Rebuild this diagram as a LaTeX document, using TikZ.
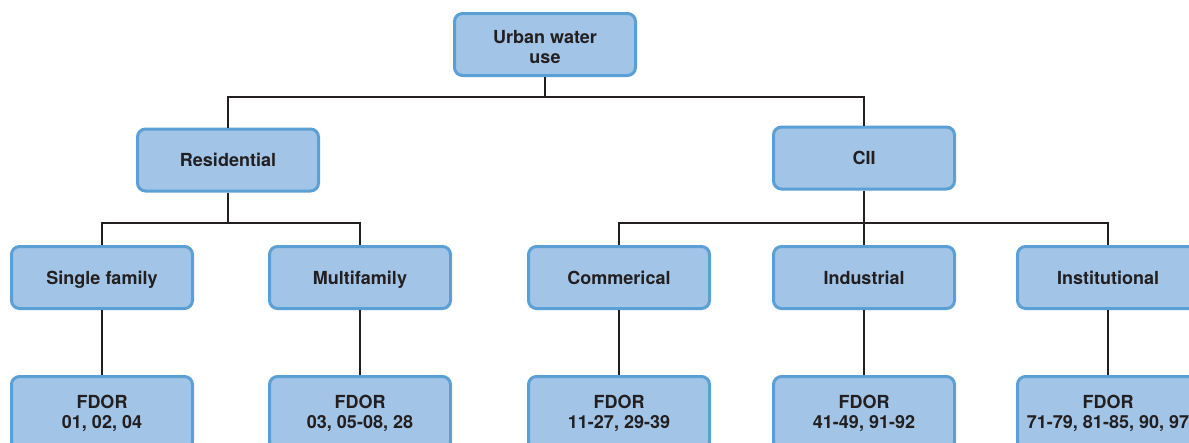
\documentclass[tikz,border=0pt]{standalone}
\usepackage{fontspec}
\setmainfont{TeX Gyre Heros}
\usepackage{tikz}
\definecolor{boxfill}{HTML}{A2C4E6}
\definecolor{boxline}{HTML}{5BA0D5}
\definecolor{ink}{HTML}{231F20}
\newcommand{\upstrut}{\rule{0pt}{18pt}}
\tikzstyle{box}=[rectangle, rounded corners=8pt, draw=boxline, line width=3pt, fill=boxfill, text=ink, font=\fontsize{18}{20}\selectfont\bfseries, align=center, minimum width=181pt, minimum height=62pt, inner sep=0pt]
\tikzstyle{onebox}=[box, text height=17pt, text depth=4pt]
\tikzstyle{tallbox}=[box, minimum height=73pt]
\tikzstyle{link}=[draw=ink, line width=2.6pt]

\begin{document}
\begin{tikzpicture}[x=1pt,y=-1pt]
		\useasboundingbox (0,0) rectangle (1189,442);
		\clip (0,0) rectangle (1189,442);
		\node[box] (urban) at (545,44.5) {\upstrut Urban water\\use};
		\node[onebox] (res) at (228,160) {Residential};
		\node[onebox] (cii) at (864,158) {CII};
		\node[onebox] (single) at (102,277.5) {Single family};
		\node[onebox] (multi) at (360,277.5) {Multifamily};
		\node[onebox] (comm) at (619,277.5) {Commerical};
		\node[onebox] (ind) at (864,277.5) {Industrial};
		\node[onebox] (inst) at (1108,277.5) {Institutional};
		\node[tallbox] (fsingle) at (102,413) {FDOR\\01, 02, 04};
		\node[tallbox] (fmulti) at (360,413) {FDOR\\03, 05-08, 28};
		\node[tallbox] (fcomm) at (619,413) {FDOR\\11-27, 29-39};
		\node[tallbox] (find) at (864,413) {FDOR\\41-49, 91-92};
		\node[tallbox] (finst) at (1108,413) {FDOR\\71-79, 81-85, 90, 97};
		\coordinate (busA) at (545,97);
		\coordinate (busR) at (228,223);
		\coordinate (busC) at (864,223);
		\draw[link] (urban.south) -- (busA);
		\draw[link] (res.north) |- (busA) -| (cii.north);
		\draw[link] (res.south) -- (busR);
		\draw[link] (single.north) |- (busR) -| (multi.north);
		\draw[link] (cii.south) -- (ind.north);
		\draw[link] (comm.north) |- (busC) -| (inst.north);
		\foreach \a/\b in {single/fsingle,multi/fmulti,comm/fcomm,ind/find,inst/finst}
			\draw[link] (\a.south) -- (\b.north);
		\end{tikzpicture}
\end{document}
